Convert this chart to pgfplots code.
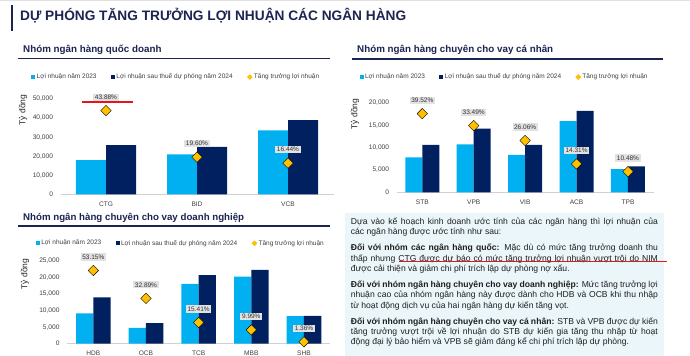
\documentclass[border=0pt]{standalone}
\usepackage{fontspec}
\setmainfont{Liberation Sans}
\usepackage{pgfplots}
\usepackage{pgfplotstable}
\pgfplotsset{compat=1.18}
\definecolor{lb}{HTML}{00B0F0}
\definecolor{nv}{HTML}{002060}
\definecolor{gd}{HTML}{FFC000}
\definecolor{tn}{HTML}{1C2452}
\definecolor{tk}{HTML}{404040}
\definecolor{bx}{HTML}{EAF6F9}
\definecolor{lg}{HTML}{E2E2E2}
\definecolor{rl}{HTML}{E8141B}

\pgfplotstableread{
x name a b g
0 CTG 18000 25900 43.88
1 BID 21000 24900 19.60
2 VCB 33600 38900 16.44
}\qd
\pgfplotstableread{
x name a b g
0 STB 7800 10600 39.52
1 VPB 10700 14200 33.49
2 VIB 8400 10600 26.06
3 ACB 15900 18200 14.31
4 TPB 5200 5800 10.48
}\cn
\pgfplotstableread{
x name a b g
0 HDB 9200 14000 53.15
1 OCB 4750 6250 32.89
2 TCB 18050 20700 15.41
3 MBB 20250 22300 9.99
4 SHB 8300 8400 1.36
}\dn

\newcommand\tickfont{\fontsize{6.6bp}{7bp}\selectfont}
\pgfplotsset{
  bank/.style={
    scale only axis, clip=false, anchor=south west,
    axis x line=bottom, axis y line=left,
    x axis line style={-, draw=black!18, line width=0.8bp},
    y axis line style={draw=none},
    major tick length=0pt,
    ymin=0,
    scaled y ticks=false,
    /pgf/number format/1000 sep={,},
    /pgf/number format/assume math mode=true,
    yticklabel style={font=\tickfont, text=tk, xshift=-4bp},
    xticklabel style={font=\tickfont, text=tk, yshift=-4bp},
    ylabel={Tỷ đồng},
    ylabel style={font=\fontsize{8.5bp}{9bp}\selectfont, text=black!85, anchor=center},
    legend style={draw=none, fill=none, legend columns=3, inner sep=0pt, outer sep=0pt,
      font=\fontsize{6.5bp}{7bp}\selectfont, text=tk, anchor=west,
      nodes={inner sep=1.4bp},
      /tikz/every even column/.append style={column sep=13bp}},
    legend cell align=left,
  },
  bara/.style={ybar, bar width=#1, bar shift=-#1/2, fill=lb, draw=none,
    legend image code/.code={\fill[lb] (0bp,-2bp) rectangle (4bp,2bp);}},
  barb/.style={ybar, bar width=#1, bar shift=#1/2, fill=nv, draw=none,
    legend image code/.code={\fill[nv] (0bp,-2bp) rectangle (4bp,2bp);}},
  grow/.style={only marks, mark=square*, mark size=3.7bp,
    mark options={rotate=45, fill=gd, draw=none},
    point meta=explicit symbolic,
    nodes near coords={\pgfplotspointmeta\%},
    nodes near coords style={anchor=center, yshift=13.5bp, fill=lg, inner xsep=1.6bp, inner ysep=1.3bp,
      font=\fontsize{6.5bp}{7bp}\selectfont, text=black!80},
    legend image code/.code={\fill[gd] (0bp,0bp) -- (2.5bp,2.5bp) -- (5bp,0bp) -- (2.5bp,-2.5bp) -- cycle;}},
}

\newcommand\jl[2]{\node[anchor=base west, inner sep=0pt] at (350.7bp,#1bp) {\makebox[307bp][s]{#2}};}
\newcommand\lft[2]{\node[anchor=base west, inner sep=0pt] at (350.7bp,#1bp) {#2};}

\begin{document}
\begin{tikzpicture}
\path[use as bounding box] (0,0) rectangle (690bp,356bp);
\fill[white] (0,0) rectangle (690bp,356bp);
\draw[black!12, line width=1bp] (0,355.3bp) -- (690bp,355.3bp);

% title
\fill[tn] (11bp,325bp) rectangle (13bp,351bp);
\node[anchor=base west, inner sep=0pt, text=tn] at (20bp,335.3bp)
  {\resizebox{386bp}{\height}{\fontsize{13.7bp}{15bp}\selectfont\bfseries DỰ PHÓNG TĂNG TRƯỞNG LỢI NHUẬN CÁC NGÂN HÀNG}};

% subtitles
\node[anchor=base west, inner sep=0pt, text=tn] at (23bp,303.3bp)
  {\fontsize{9.8bp}{11bp}\selectfont\bfseries Nhóm ngân hàng quốc doanh};
\draw[tn, line width=1.8bp] (18bp,297.5bp) -- (330bp,297.5bp);
\node[anchor=base west, inner sep=0pt, text=tn] at (357bp,303.3bp)
  {\fontsize{9.8bp}{11bp}\selectfont\bfseries Nhóm ngân hàng chuyên cho vay cá nhân};
\draw[tn, line width=1.8bp] (352bp,297bp) -- (663bp,297bp);
\node[anchor=base west, inner sep=0pt, text=tn] at (23bp,135bp)
  {\fontsize{9.7bp}{11bp}\selectfont\bfseries Nhóm ngân hàng chuyên cho vay doanh nghiệp};
\draw[tn, line width=1.8bp] (18bp,129.7bp) -- (330bp,129.7bp);

% text box
\fill[bx] (345bp,0bp) rectangle (664bp,143bp);
\begin{scope}[every node/.style={font=\fontsize{8.6bp}{10bp}\selectfont, text=black!88}]
\jl{131.8}{Dựa vào kế hoạch kinh doanh ước tính của các ngân hàng thì lợi nhuận của}
\lft{121.2}{các ngân hàng được ước tính như sau:}
\jl{105.2}{\textbf{Đối với nhóm các ngân hàng quốc:} Mặc dù có mức tăng trưởng doanh thu}
\jl{94.8}{thấp nhưng CTG được dự báo có mức tăng trưởng lợi nhuận vượt trội do NIM}
\lft{84.5}{được cải thiện và giảm chi phí trích lập dự phòng nợ xấu.}
\jl{68.5}{\textbf{Đối với nhóm ngân hàng chuyên cho vay doanh nghiệp:} Mức tăng trưởng lợi}
\jl{58.2}{nhuận cao của nhóm ngân hàng này được dành cho HDB và OCB khi thu nhập}
\lft{47.8}{từ hoạt động dịch vụ của hai ngân hàng dự kiến tăng vọt.}
\jl{31.8}{\textbf{Đối với nhóm ngân hàng chuyên cho vay cá nhân:} STB và VPB được dự kiến}
\jl{21.5}{tăng trưởng vượt trội về lợi nhuận do STB dự kiến gia tăng thu nhập từ hoạt}
\lft{11.2}{động đại lý bảo hiểm và VPB sẽ giảm đáng kể chi phí trích lập dự phòng.}
\end{scope}
\draw[rl, line width=1.3bp] (399bp,94.3bp) -- (667bp,94.3bp);

% panel 1
\begin{axis}[bank, at={(60.5bp,161.5bp)}, width=273bp, height=95.5bp,
  xmin=-0.5, xmax=2.5, ymax=50000, ytick={0,10000,20000,30000,40000,50000},
  xtick={0,1,2}, xticklabels from table={\qd}{name},
  ylabel style={at={(axis description cs:-0.137,0.885)}},
  legend style={at={(axis description cs:-0.107,1.23)}}]
\addplot[bara=30bp] table[x=x,y=a]{\qd};
\addlegendentry{Lợi nhuận năm 2023}
\addplot[barb=30bp] table[x=x,y=b]{\qd};
\addlegendentry{Lợi nhuận sau thuế dự phóng năm 2024}
\addplot[grow] table[x=x, y expr=\thisrow{g}*1000, meta=g]{\qd};
\addlegendentry{Tăng trưởng lợi nhuận}
\end{axis}
\draw[rl, line width=1.3bp] (82bp,254bp) -- (133bp,254bp);

% panel 2
\begin{axis}[bank, at={(396.6bp,163.5bp)}, width=257.1bp, height=89.8bp,
  xmin=-0.5, xmax=4.5, ymax=20000, ytick={0,5000,10000,15000,20000},
  xtick={0,1,2,3,4}, xticklabels from table={\cn}{name},
  ylabel style={at={(axis description cs:-0.162,0.874)}},
  legend style={at={(axis description cs:-0.1435,1.286)}}]
\addplot[bara=17bp] table[x=x,y=a]{\cn};
\addlegendentry{Lợi nhuận năm 2023}
\addplot[barb=17bp] table[x=x,y=b]{\cn};
\addlegendentry{Lợi nhuận sau thuế dự phóng năm 2024}
\addplot[grow] table[x=x, y expr=\thisrow{g}*444.4, meta=g]{\cn};
\addlegendentry{Tăng trưởng lợi nhuận}
\end{axis}

% panel 3
\begin{axis}[bank, at={(67bp,12.3bp)}, width=263.3bp, height=82.7bp,
  xmin=-0.5, xmax=4.5, ymax=25000, ytick={0,5000,10000,15000,20000,25000},
  xtick={0,1,2,3,4}, xticklabels from table={\dn}{name},
  ylabel style={at={(axis description cs:-0.16,0.843)}},
  legend style={at={(axis description cs:-0.118,1.214)}}]
\addplot[bara=17.3bp] table[x=x,y=a]{\dn};
\addlegendentry{Lợi nhuận năm 2023}
\addplot[barb=17.3bp] table[x=x,y=b]{\dn};
\addlegendentry{Lợi nhuận sau thuế dự phóng năm 2024}
\addplot[grow] table[x=x, y expr=\thisrow{g}*416.67, meta=g]{\dn};
\addlegendentry{Tăng trưởng lợi nhuận}
\end{axis}
\end{tikzpicture}
\end{document}
